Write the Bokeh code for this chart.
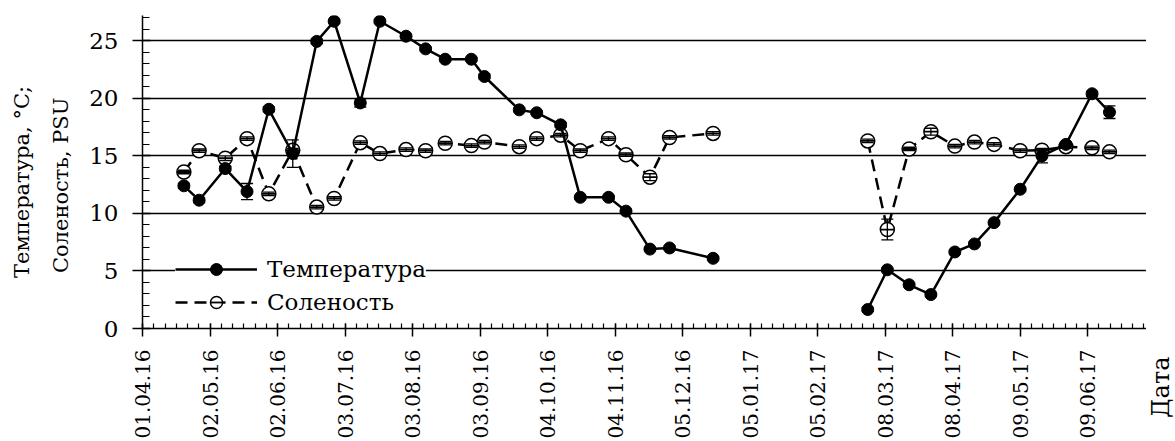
import math
import pandas as pd
from bokeh.plotting import figure
from bokeh.layouts import row
from bokeh.models import (ColumnDataSource, FixedTicker, DatetimeTickFormatter, Range1d,
                          Legend, LegendItem, Whisker, TeeHead, LinearAxis)
from bokeh.embed import file_html
from bokeh.resources import INLINE

# ---------------- data ----------------
dates = ["20.04.16", "27.04.16", "09.05.16", "19.05.16", "29.05.16", "09.06.16",
         "20.06.16", "28.06.16", "10.07.16", "19.07.16", "31.07.16", "09.08.16",
         "18.08.16", "30.08.16", "05.09.16", "21.09.16", "29.09.16", "10.10.16",
         "19.10.16", "01.11.16", "09.11.16", "20.11.16", "29.11.16", "19.12.16",
         "28.02.17", "09.03.17", "19.03.17", "29.03.17", "09.04.17", "18.04.17",
         "27.04.17", "09.05.17", "19.05.17", "30.05.17", "11.06.17", "19.06.17"]
temperature = [12.4, 11.15, 13.9, 11.9, 19.05, 15.2, 24.95, 26.7, 19.6, 26.7, 25.4, 24.3,
               23.4, 23.4, 21.9, 19.0, 18.75, 17.7, 11.4, 11.4, 10.2, 6.9, 7.0, 6.1,
               1.65, 5.1, 3.8, 2.95, 6.65, 7.35, 9.2, 12.1, 15.0, 16.0, 20.4, 18.8]
salinity = [13.6, 15.45, 14.8, 16.5, 11.7, 15.5, 10.55, 11.3, 16.15, 15.2, 15.55, 15.45,
            16.1, 15.9, 16.2, 15.8, 16.5, 16.8, 15.45, 16.5, 15.1, 13.15, 16.6, 16.95,
            16.3, 8.6, 15.6, 17.1, 15.85, 16.2, 16.0, 15.45, 15.5, 15.8, 15.7, 15.35]
temp_err = [0.2, 0.2, 0.2, 0.7, 0.2, 1.2, 0.2, 0.15, 0.35, 0.15, 0.15, 0.15,
            0.15, 0.15, 0.2, 0.15, 0.15, 0.2, 0.15, 0.15, 0.15, 0.15, 0.15, 0.15,
            0.15, 0.15, 0.15, 0.15, 0.15, 0.15, 0.15, 0.15, 0.6, 0.2, 0.2, 0.55]
sal_err = [0.15, 0.15, 0.2, 0.15, 0.15, 0.15, 0.15, 0.15, 0.15, 0.15, 0.15, 0.15,
           0.15, 0.15, 0.15, 0.15, 0.15, 0.15, 0.15, 0.15, 0.15, 0.3, 0.15, 0.15,
           0.15, 0.9, 0.15, 0.3, 0.15, 0.15, 0.15, 0.15, 0.15, 0.15, 0.15, 0.15]
gap_index = 24  # first sample after the winter gap (lines are broken here)

x_tick_dates = ["01.04.16", "02.05.16", "02.06.16", "03.07.16", "03.08.16", "03.09.16",
                "04.10.16", "04.11.16", "05.12.16", "05.01.17", "05.02.17", "08.03.17",
                "08.04.17", "09.05.17", "09.06.17"]
x_end_date = "06.07.17"
y_ticks = [0, 5, 10, 15, 20, 25]
y_minor = list(range(0, 28))
y_max = 27.2
y_title_1 = "Температура, °C;"
y_title_2 = "Соленость, PSU"
x_caption = "Дата"
legend_labels = ["Температура", "Соленость"]

FONT = "DejaVu Serif"
NBSP = "\u00a0"
EPOCH = pd.Timestamp("1970-01-01")


def to_ms(strings):
    ts = pd.to_datetime(pd.Series(strings), format="%d.%m.%y")
    return [int((t - EPOCH) // pd.Timedelta(milliseconds=1)) for t in ts]


tick_ms = to_ms(x_tick_dates)
end_ms = to_ms([x_end_date])[0]
start_ms = tick_ms[0]
minor_step = 31 / 6 * 86400000
minor_ms = []
k = 0
while start_ms + k * minor_step <= end_ms + 1:
    minor_ms.append(start_ms + k * minor_step)
    k += 1

src = ColumnDataSource(dict(
    x=pd.to_datetime(pd.Series(dates), format="%d.%m.%y"),
    t=temperature, s=salinity,
    t_up=[v + e for v, e in zip(temperature, temp_err)],
    t_lo=[v - e for v, e in zip(temperature, temp_err)],
    s_up=[v + e for v, e in zip(salinity, sal_err)],
    s_lo=[v - e for v, e in zip(salinity, sal_err)],
))

H = 441
p = figure(width=1146, height=H, x_axis_type="datetime",
           x_range=Range1d(start_ms, end_ms), y_range=Range1d(0, y_max),
           output_backend="svg", toolbar_location=None,
           min_border_left=142, min_border_right=0, min_border_top=15, min_border_bottom=111)
p.outline_line_color = None
p.background_fill_color = "white"
p.border_fill_color = "white"
p.xgrid.visible = False
p.ygrid.grid_line_color = "black"
p.ygrid.grid_line_width = 1.3
p.ygrid.grid_line_alpha = 1.0

xa = p.xaxis[0]
xa.ticker = FixedTicker(ticks=tick_ms, minor_ticks=minor_ms)
xa.formatter = DatetimeTickFormatter(days="%d.%m.%y", months="%d.%m.%y", years="%d.%m.%y",
                                     hours="%d.%m.%y", hourmin="%d.%m.%y")
xa.major_label_orientation = math.pi / 2

ya = p.yaxis[0]
ya.ticker = FixedTicker(ticks=y_ticks, minor_ticks=y_minor)

for ax in (xa, ya):
    ax.axis_line_color = "black"
    ax.axis_line_width = 1.5
    ax.major_tick_line_color = "black"
    ax.major_tick_line_width = 1.5
    ax.minor_tick_line_color = "black"
    ax.minor_tick_line_width = 1.2
    ax.minor_tick_out = 0
    ax.major_label_text_color = "black"
    ax.major_label_text_font = FONT
    ax.major_label_text_font_style = "normal"

xa.major_tick_in = 5
xa.major_tick_out = 8
xa.minor_tick_in = 5
xa.major_label_standoff = 13
xa.major_label_text_font_size = "20px"

ya.major_tick_in = 8
ya.major_tick_out = 10
ya.minor_tick_in = 7
ya.major_label_standoff = 14
ya.major_label_text_font_size = "23px"

# two-line y title: one tick-less extra axis per line
for title, pad, standoff in ((y_title_2, 4, 14), (y_title_1, 3, 12)):
    extra = LinearAxis(ticker=FixedTicker(ticks=[]), axis_label=title + NBSP * pad,
                       axis_line_color=None, major_tick_in=0, major_tick_out=0,
                       minor_tick_in=0, minor_tick_out=0, major_label_text_font_size="1px",
                       axis_label_standoff=standoff, axis_label_text_font=FONT,
                       axis_label_text_font_style="normal", axis_label_text_font_size="21px",
                       axis_label_text_color="black")
    p.add_layout(extra, "left")

# salinity
seg = [(0, gap_index), (gap_index, len(dates))]
s_lines = []
for a, b in seg:
    view_src = ColumnDataSource(dict(x=src.data["x"][a:b], s=salinity[a:b]))
    s_lines.append(p.line("x", "s", source=view_src, line_color="black", line_width=2.5,
                          line_dash="12 7"))
s_circ = p.scatter("x", "s", source=src, marker="circle", size=14, fill_color="white",
                   line_color="black", line_width=1.5)
s_dash = p.scatter("x", "s", source=src, marker="dash", size=14, line_color="black",
                   line_width=1.8)

# temperature
t_lines = []
for a, b in seg:
    view_src = ColumnDataSource(dict(x=src.data["x"][a:b], t=temperature[a:b]))
    t_lines.append(p.line("x", "t", source=view_src, line_color="black", line_width=2.5))
t_circ = p.scatter("x", "t", source=src, marker="circle", size=12, fill_color="black",
                   line_color="black", line_width=1)

# error bars
for up, lo in (("t_up", "t_lo"), ("s_up", "s_lo")):
    w = Whisker(source=src, base="x", upper=up, lower=lo, dimension="height",
                line_color="black", line_width=1.3, level="overlay",
                upper_head=TeeHead(size=12, line_color="black", line_width=1.3),
                lower_head=TeeHead(size=12, line_color="black", line_width=1.3))
    p.add_layout(w)

legend = Legend(items=[LegendItem(label=legend_labels[0], renderers=[t_lines[0], t_circ]),
                       LegendItem(label=legend_labels[1], renderers=[s_lines[0], s_circ, s_dash])],
                location=(33, 11), background_fill_color="white", background_fill_alpha=1.0,
                border_line_color=None, label_text_font=FONT,
                label_text_font_style="normal", label_text_font_size="23px",
                label_text_color="black", glyph_width=82, glyph_height=30, label_height=30,
                spacing=3, padding=8, label_standoff=10, margin=0)
p.add_layout(legend)

# narrow strip to the right: its x-axis carries the rotated "Дата" caption
q = figure(width=29, height=H, x_range=Range1d(0, 1), y_range=Range1d(0, 1),
           output_backend="svg", toolbar_location=None,
           min_border_left=0, min_border_right=0, min_border_top=15, min_border_bottom=111)
q.yaxis.visible = False
q.grid.visible = False
q.outline_line_color = None
q.background_fill_color = "white"
q.border_fill_color = "white"
q.xaxis.ticker = FixedTicker(ticks=[0.5])
q.xaxis.major_label_overrides = {0.5: x_caption}
q.xaxis.major_label_orientation = math.pi / 2
q.xaxis.major_tick_in = 0
q.xaxis.major_tick_out = 0
q.xaxis.minor_tick_in = 0
q.xaxis.minor_tick_out = 0
q.xaxis.axis_line_color = None
q.xaxis.major_label_standoff = 28
q.xaxis.major_label_text_font = FONT
q.xaxis.major_label_text_font_style = "normal"
q.xaxis.major_label_text_font_size = "24px"
q.xaxis.major_label_text_color = "black"

layout = row(p, q)
open("out.html", "w").write(file_html(layout, INLINE))
